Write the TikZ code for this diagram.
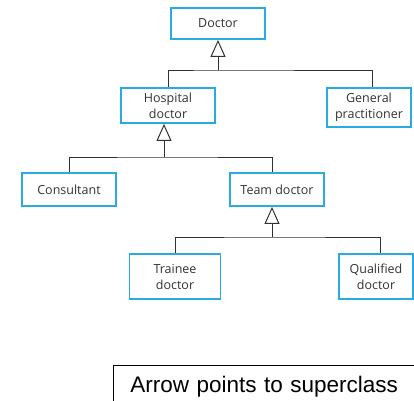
\documentclass[tikz,border=0pt]{standalone}
\usepackage{fontspec}
\setmainfont{Open Sans}
\newfontfamily\keyfont{Liberation Sans}
\usepackage{xcolor}
\usetikzlibrary{arrows.meta}
\definecolor{boxblue}{RGB}{41,171,226}
\definecolor{linegray}{RGB}{50,50,50}

\begin{document}
\begin{tikzpicture}[
    x=1pt, y=-1pt,
    > = {Triangle[open, length=17pt, width=15pt]}, % generalisation head
    every node/.style={align=center, text=linegray, font=\fontsize{12.5pt}{16pt}\selectfont},
    cls/.style={draw=boxblue, line width=1.8pt, inner sep=0pt},
    link/.style={draw=linegray, line width=1pt},
    super/.style={link, ->}
]
\clip (0,0) rectangle (414,400);

% Nodes
\node[cls, minimum width=94pt, minimum height=31pt] (doctor) at (218,23.5) {Doctor};
\node[cls, minimum width=94pt, minimum height=35pt] (hospital) at (168,105.5) {Hospital\\doctor};
\node[cls, minimum width=84pt, minimum height=39pt] (general) at (369,107.5) {General\\practitioner};
\node[cls, minimum width=94pt, minimum height=33pt] (consultant) at (69,189.5) {Consultant};
\node[cls, minimum width=94pt, minimum height=33pt] (team) at (277,189.5) {Team doctor};
\node[cls, minimum width=91pt, minimum height=45pt] (trainee) at (175,276.5) {Trainee\\doctor};
\node[cls, minimum width=74pt, minimum height=45pt] (qualified) at (376,276.5) {Qualified\\doctor};

% Junctions
\coordinate (j1) at (218,70);
\coordinate (j2) at (164,157);
\coordinate (j3) at (272,237);

% Edges
\draw[link] (hospital.north) |- (j1) -| ([xshift=3pt]general.north);
\draw[super] (j1) -- (doctor.south);
\draw[link] (consultant.north) |- (j2) -| (j3 |- team.north);
\draw[super] (j2) -- (j2 |- hospital.south);
\draw[link] (trainee.north) |- (j3) -| ([xshift=4pt]qualified.north);
\draw[super] (j3) -- (j3 |- team.south);

% Key
\node[draw=black, text=black, line width=0.8pt, anchor=north west, text width=290pt, align=left,
      inner xsep=17pt, inner ysep=10.5pt, text height=16.5pt, text depth=5pt,
      font=\keyfont\fontsize{22.5pt}{27pt}\selectfont] (key) at (113,365) {Arrow points to superclass};

\end{tikzpicture}
\end{document}
